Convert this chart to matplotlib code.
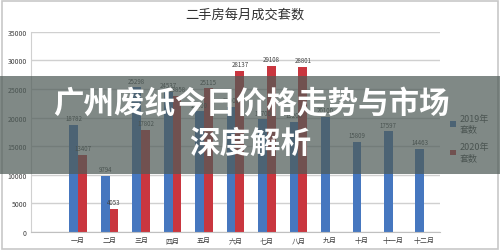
import matplotlib
matplotlib.use("Agg")
import matplotlib.pyplot as plt
import numpy as np
from matplotlib.patches import Rectangle

plt.rcParams['font.family'] = ['Noto Sans CJK SC', 'DejaVu Sans']

months = ['一月', '二月', '三月', '四月', '五月', '六月', '七月', '八月', '九月', '十月', '十一月', '十二月']
sales_2019 = [18782, 9794, 25298, 24537, 21100, 21900, 19700, 19200, 20100, 15809, 17597, 14463]
sales_2020 = [13407, 4053, 17802, 23858, 25115, 28137, 29108, 28801]
series_names = ['2019年\n套数', '2020年\n套数']
chart_title = '二手房每月成交套数'
banner_lines = ['广州废纸今日价格走势与市场', '深度解析']
yticks = [0, 5000, 10000, 15000, 20000, 25000, 30000, 35000]

blue = '#4677bf'
red = '#c9363f'

fig = plt.figure(figsize=(5.0, 2.53), dpi=100)
fig.patch.set_facecolor('white')
# outer frame
fig.add_artist(Rectangle((0.004, 0.012), 0.992, 0.98, transform=fig.transFigure,
                         fill=False, edgecolor='#c8c8c8', linewidth=1.2))

ax = fig.add_axes([0.062, 0.079, 0.818, 0.791])
x = np.arange(len(months))
w = 0.28
ax.bar(x[:len(sales_2019)] - w / 2, sales_2019, width=w, color=blue, label=series_names[0], zorder=2)
x2 = np.arange(len(sales_2020))
ax.bar(x2 + w / 2, sales_2020, width=w, color=red, label=series_names[1], zorder=2)

for xi, v in zip(x, sales_2019):
    ax.text(xi - w / 2, v + 500, str(v), ha='center', va='bottom', fontsize=4.4, color='#404040')
for xi, v in zip(x2, sales_2020):
    ax.text(xi + w / 2, v + 500, str(v), ha='center', va='bottom', fontsize=4.4, color='#404040')

ax.set_xlim(-1.5, 11.5)
ax.set_ylim(0, 35000)
ax.set_yticks(yticks)
ax.set_yticklabels([str(t) for t in yticks], fontsize=5, color='#404040')
ax.set_xticks(x)
ax.set_xticklabels(months, fontsize=5, color='#404040')
ax.tick_params(length=0, pad=3)
ax.yaxis.grid(True, color='#d0d0d0', linewidth=1.0, zorder=0)
ax.set_axisbelow(True)
for s in ['top', 'right']:
    ax.spines[s].set_visible(False)
ax.spines['left'].set_color('#d0d0d0')
ax.spines['bottom'].set_color('#c0c0c0')

fig.text(0.49, 0.94, chart_title, ha='center', va='center', fontsize=9.5, color='#303030')

leg = ax.legend(loc='upper left', bbox_to_anchor=(1.005, 0.63), frameon=False,
                fontsize=6.5, handlelength=0.6, handleheight=0.6, handletextpad=0.4,
                labelspacing=1.0, labelcolor='#404040')

# banner overlay
fig.add_artist(Rectangle((0, 1 - 175 / 253), 1, (175 - 77) / 253, transform=fig.transFigure,
                         facecolor='#4f5c58', alpha=0.72, edgecolor='none', zorder=10))
fig.text(0.502, 1 - 104 / 253, banner_lines[0], ha='center', va='center', fontsize=22,
         fontweight='bold', color='white', zorder=11)
fig.text(0.5, 1 - 144 / 253, banner_lines[1], ha='center', va='center', fontsize=22,
         fontweight='bold', color='white', zorder=11)

fig.savefig('out.png', dpi=100)
